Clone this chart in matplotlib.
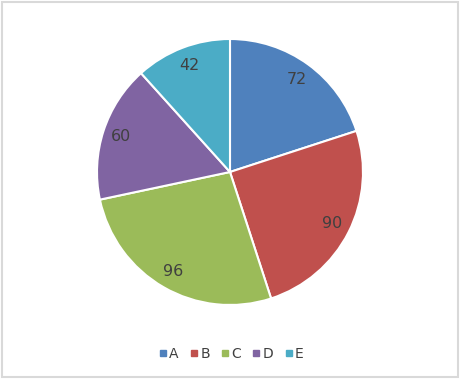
import matplotlib.pyplot as plt
from matplotlib.lines import Line2D
from matplotlib.patches import Rectangle

labels = ['A', 'B', 'C', 'D', 'E']
values = [72, 90, 96, 60, 42]
colors = ['#4F81BD', '#C0504D', '#9BBB59', '#8064A2', '#4BACC6']

fig = plt.figure(figsize=(4.61, 3.79), dpi=100)

# light grey chart border
fig.patches.append(Rectangle((2/461, 2/379), 456/461, 375/379, transform=fig.transFigure,
                             fill=False, edgecolor='#D9D9D9', linewidth=1.5))

ax = fig.add_axes([0.2104, 0.1953, 0.577, 0.7018])
wedges, texts, autotexts = ax.pie(values, colors=colors, startangle=90, counterclock=False,
                                  autopct=lambda p: '%d' % round(p * sum(values) / 100),
                                  pctdistance=0.86,
                                  wedgeprops={'edgecolor': 'white', 'linewidth': 1.5},
                                  textprops={'color': '#404040', 'fontsize': 11.5})
ax.set_xlim(-1, 1)
ax.set_ylim(-1, 1)
ax.set_aspect('equal')

handles = [Line2D([], [], marker='s', linestyle='', color=c, markersize=5) for c in colors]
fig.legend(handles, labels, loc='center', bbox_to_anchor=(0.5, 1 - 354/379), ncol=5,
           frameon=False, fontsize=10, handletextpad=0.05, columnspacing=0.7,
           labelcolor='#404040', handlelength=0.8)

fig.savefig('out.png', dpi=100)
